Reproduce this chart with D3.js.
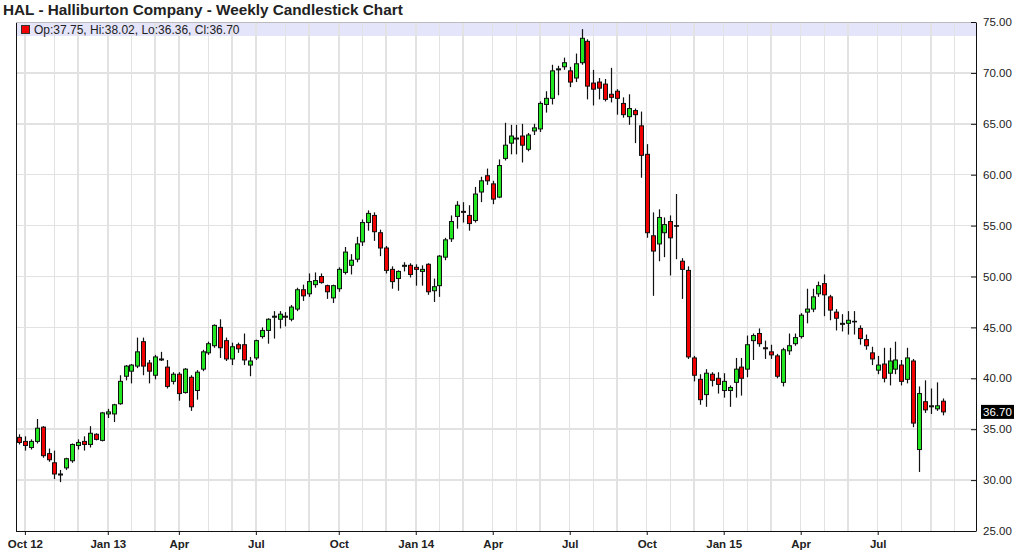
<!DOCTYPE html>
<html><head><meta charset="utf-8">
<script src="https://cdn.jsdelivr.net/npm/d3@7"></script>
<style>html,body{margin:0;padding:0;background:#fff;overflow:hidden}svg{display:block}</style>
</head><body><svg id="chart" width="1024" height="559"></svg>
<script>
// ---- data (weekly candles, Monday-dated weeks) ----
const firstWeek = "2012-09-24";
const opens = [34.2,33.8,33.2,33.8,35.2,32.6,31.7,30.5,31.2,31.9,
33.4,33.8,33.5,34.5,33.9,36.5,36.5,37.5,40.2,40.7,
41.2,43.6,41.5,40.3,41.8,41.1,39.7,40.4,38.6,40.1,
38.8,40.9,42.5,43.2,45.0,43.7,41.9,43.3,43.3,41.3,
42.0,44.1,44.7,46.0,45.8,46.1,45.8,46.8,48.7,48.3,
49.2,50.0,49.1,47.9,48.8,50.4,51.1,51.7,53.4,55.3,
56.0,54.3,52.8,50.7,49.8,51.0,51.1,50.9,50.5,51.2,
48.6,49.1,51.9,53.7,55.9,56.4,56.0,55.5,58.3,59.9,
59.1,57.8,61.6,63.1,63.5,63.8,62.5,64.3,64.5,66.9,
67.5,70.3,70.6,70.2,69.5,71.0,73.1,69.0,69.1,68.9,
67.9,68.2,67.0,65.7,66.3,64.8,62.0,54.0,53.2,54.3,
55.4,55.0,51.5,50.6,42.0,39.9,38.4,40.4,40.0,38.8,
38.8,39.6,41.1,40.9,43.7,44.4,43.0,42.6,42.2,39.6,
42.7,43.4,44.1,46.5,46.8,48.3,49.3,48.0,46.5,45.3,
45.4,45.6,44.9,43.8,42.5,40.8,41.4,40.5,40.9,41.3,
39.9,41.7,33.0,37.7,37.2,37.0,37.75];
const highs = [34.5,34.3,34.0,36.0,35.3,33.1,32.9,31.0,32.2,33.6,
34.0,34.3,35.3,34.6,36.7,37.0,37.5,40.3,41.3,41.4,
44.0,44.0,41.8,42.3,42.6,41.8,40.6,40.6,41.0,40.3,
40.8,42.8,43.6,45.3,45.8,44.0,43.5,43.5,44.4,42.1,
43.8,45.0,45.9,46.6,46.6,46.5,47.2,48.9,49.2,50.3,
50.4,50.3,49.2,49.2,50.9,52.9,52.2,53.9,55.6,56.5,
56.3,54.6,53.0,51.0,50.6,51.4,51.3,51.2,51.1,51.3,
49.8,52.1,53.8,56.0,57.4,57.3,57.0,58.8,59.8,60.6,
59.4,61.5,65.1,64.9,64.9,65.0,64.1,65.0,67.2,68.2,
70.8,70.7,71.5,70.6,71.9,74.3,73.3,70.3,69.5,69.4,
70.5,68.4,67.6,67.9,66.5,66.2,63.0,56.3,56.6,55.8,
56.0,58.1,51.8,51.0,42.2,40.4,40.9,40.6,40.6,40.5,
39.3,42.0,42.0,44.2,44.4,44.9,43.7,43.3,42.4,43.0,
44.4,44.4,46.4,48.8,48.8,49.5,50.2,48.2,46.8,46.3,
46.6,46.6,45.2,44.3,43.1,42.2,43.0,43.0,43.6,41.8,
43.0,41.9,39.2,39.8,39.0,39.6,38.02];
const lows = [33.5,32.9,33.0,33.6,32.2,31.8,30.1,29.8,31.0,31.7,
33.0,32.9,33.2,33.9,33.8,36.1,35.7,37.4,39.8,39.5,
41.0,40.3,39.5,39.9,41.7,39.0,39.4,37.8,38.5,36.8,
37.9,40.7,42.3,43.0,42.0,41.7,41.3,42.5,41.3,40.2,
41.8,43.9,43.4,43.9,44.9,45.1,45.6,46.6,47.6,48.0,
48.9,49.3,47.8,47.4,48.5,50.2,50.2,51.4,53.0,54.5,
53.5,52.0,50.3,48.8,48.6,50.5,49.9,49.1,49.1,48.2,
47.5,48.0,51.6,53.4,54.7,55.3,54.5,55.3,57.3,59.0,
57.1,57.7,61.4,62.0,62.0,61.2,62.3,63.9,64.2,66.1,
66.9,67.8,70.3,68.6,69.1,70.8,67.4,66.8,67.4,67.2,
67.1,65.9,65.6,64.9,63.1,59.7,53.8,48.1,51.5,51.9,
50.1,51.7,47.8,41.9,39.7,37.4,37.2,39.2,38.5,38.1,
37.2,38.1,38.3,40.1,41.8,43.1,41.9,41.9,40.0,39.2,
42.3,43.2,43.9,45.4,46.5,48.0,46.1,45.7,44.7,44.6,
44.3,44.3,43.3,42.8,41.3,40.4,39.6,39.3,40.4,39.3,
39.5,35.2,30.8,36.6,36.5,36.8,36.36];
const closes = [33.7,33.4,33.8,35.1,32.4,32.0,30.6,30.6,32.1,33.5,
33.7,33.5,34.6,34.0,36.6,36.7,37.4,39.7,41.2,41.3,
42.6,41.2,40.7,42.1,41.9,39.2,40.4,38.5,40.9,37.2,
40.6,42.6,43.4,45.2,43.0,41.9,43.1,42.9,41.8,41.7,
43.7,44.7,45.8,46.1,46.3,46.0,47.0,48.7,48.1,49.5,
49.6,49.4,48.5,49.1,50.7,52.4,51.6,53.2,55.3,56.2,
54.4,52.8,50.6,49.5,50.5,51.1,50.2,50.7,50.7,48.5,
49.0,52.0,53.6,55.4,57.0,56.3,55.2,58.1,59.4,59.4,
57.6,60.9,62.9,63.8,63.6,62.9,63.9,64.6,67.0,67.5,
70.2,70.4,71.0,69.1,70.9,73.4,68.7,68.4,68.5,67.4,
67.6,67.5,65.9,66.5,65.9,61.9,54.3,52.5,55.8,55.1,
53.8,55.0,50.7,42.1,40.3,37.9,40.5,39.8,39.4,39.7,
39.1,40.9,40.0,43.3,44.2,43.4,42.9,42.3,40.2,42.8,
43.2,44.0,46.2,46.8,48.0,49.1,48.2,46.7,45.9,45.4,
45.7,45.6,43.9,43.2,41.9,41.3,40.0,41.7,41.8,39.7,
42.0,35.6,38.5,36.9,37.3,37.3,36.70];
const yTicks = [25,30,35,40,45,50,55,60,65,70,75];
const xTickDates = ["2012-10-01","2013-01-07","2013-04-01","2013-07-01","2013-10-07","2014-01-06",
                    "2014-04-07","2014-07-07","2014-10-06","2015-01-05","2015-04-06","2015-07-06"];
const xTickLabels = ["Oct 12","Jan 13","Apr","Jul","Oct","Jan 14","Apr","Jul","Oct","Jan 15","Apr","Jul"];
const titleText = "HAL - Halliburton Company - Weekly Candlestick Chart";
const legendText = "Op:37.75, Hi:38.02, Lo:36.36, Cl:36.70";
const lastText = "36.70";

// ---- layout ----
const L = 16, R = 976, T = 22, B = 531;
const parse = d3.timeParse("%Y-%m-%d");
const start = parse(firstWeek);
const dates = opens.map((_, i) => d3.timeMonday.offset(start, i));
const candles = dates.map((d, i) => ({d, o: opens[i], h: highs[i], l: lows[i], c: closes[i]}));
const WEEK = 7 * 864e5;
const x = d3.scaleTime()
  .domain([new Date(+start - 0.5 * WEEK), new Date(+start + 161.6 * WEEK)])
  .range([L, R]);
const y = d3.scaleLinear().domain([25, 75]).range([B, T]);

const svg = d3.select("#chart");
svg.append("rect").attr("width", 1024).attr("height", 559).attr("fill", "#fff");

// legend band
svg.append("rect").attr("x", L).attr("y", T).attr("width", R - L).attr("height", 14)
  .attr("fill", "#e4e4fb");

// grid
const grid = svg.append("g").attr("stroke", "#e2e2e2").attr("stroke-width", 1.5)
  .attr("shape-rendering", "crispEdges");
const months = d3.timeMonth.range(new Date(2012, 9, 1), new Date(2015, 11, 1))
  .map(m => d3.timeMonday.ceil(m)).filter(d => x(d) > L + 2 && x(d) < R - 2);
grid.selectAll(".v").data(months).join("line")
  .attr("x1", d => x(d)).attr("x2", d => x(d)).attr("y1", T).attr("y2", B);
grid.selectAll(".h").data(yTicks.filter(v => v > 25 && v < 75)).join("line")
  .attr("x1", L).attr("x2", R).attr("y1", d => y(d)).attr("y2", d => y(d));

// candles
const cg = svg.append("g");
cg.selectAll("line").data(candles).join("line")
  .attr("x1", d => Math.round(x(d.d)) + 0.5).attr("x2", d => Math.round(x(d.d)) + 0.5)
  .attr("y1", d => y(d.h)).attr("y2", d => y(d.l))
  .attr("stroke", "#111").attr("stroke-width", 1.2);
cg.selectAll("rect").data(candles).join("rect")
  .attr("x", d => Math.round(x(d.d)) - 1.5)
  .attr("width", 4)
  .attr("y", d => y(Math.max(d.o, d.c)))
  .attr("height", d => Math.max(0.6, Math.abs(y(d.o) - y(d.c))))
  .attr("fill", d => d.c > d.o ? "#22e622" : (d.c < d.o ? "#f00000" : "#111"))
  .attr("stroke", "#111").attr("stroke-width", 1);

// frame
const frame = svg.append("g").attr("stroke", "#111").attr("shape-rendering", "crispEdges");
frame.append("line").attr("x1", L).attr("x2", L).attr("y1", T).attr("y2", B);
frame.append("line").attr("x1", L).attr("x2", R).attr("y1", B).attr("y2", B);
frame.append("line").attr("x1", L).attr("x2", R).attr("y1", T).attr("y2", T).attr("stroke", "#bbb");

// right axis
const yAxis = svg.append("g").attr("transform", `translate(${R},0)`)
  .call(d3.axisRight(y).tickValues(yTicks).tickFormat(d3.format(".2f"))
    .tickSizeInner(-5).tickSizeOuter(0).tickPadding(7));
yAxis.select(".domain").attr("stroke", "#111");
yAxis.selectAll("line").attr("stroke", "#111");
yAxis.selectAll("text").attr("font-family", "'Liberation Sans', Arial, sans-serif")
  .attr("font-size", 11.5).attr("fill", "#222");

// bottom axis
const xAxis = svg.append("g").attr("transform", `translate(0,${B})`)
  .call(d3.axisBottom(x).tickValues(xTickDates.map(parse))
    .tickFormat((d, i) => xTickLabels[i]).tickSizeInner(4).tickSizeOuter(0).tickPadding(5));
xAxis.select(".domain").remove();
xAxis.selectAll("line").attr("stroke", "#111");
xAxis.selectAll("text").attr("font-family", "'Liberation Sans Narrow', 'Arial Narrow', 'Liberation Sans', sans-serif")
  .attr("font-weight", "bold").attr("font-size", 11.5).attr("fill", "#222");

// last price tag
const lastVal = closes[closes.length - 1];
svg.append("rect").attr("x", R + 5).attr("y", y(lastVal) - 7).attr("width", 33).attr("height", 14)
  .attr("fill", "#000");
svg.append("text").attr("x", R + 7).attr("y", y(lastVal) + 4).text(lastText)
  .attr("font-family", "'Liberation Sans', Arial, sans-serif").attr("font-size", 11.5).attr("fill", "#fff");

// title & legend
svg.append("text").attr("x", 3).attr("y", 15).text(titleText)
  .attr("font-family", "'Liberation Sans', Arial, sans-serif").attr("font-weight", "bold")
  .attr("font-size", 15.3).attr("fill", "#222");
svg.append("rect").attr("x", 21.5).attr("y", 25.5).attr("width", 8).attr("height", 8)
  .attr("fill", "#f00000").attr("stroke", "#333");
svg.append("text").attr("x", 34).attr("y", 33.5).text(legendText)
  .attr("font-family", "'Liberation Sans', Arial, sans-serif").attr("font-size", 12).attr("fill", "#222");
</script></body></html>
